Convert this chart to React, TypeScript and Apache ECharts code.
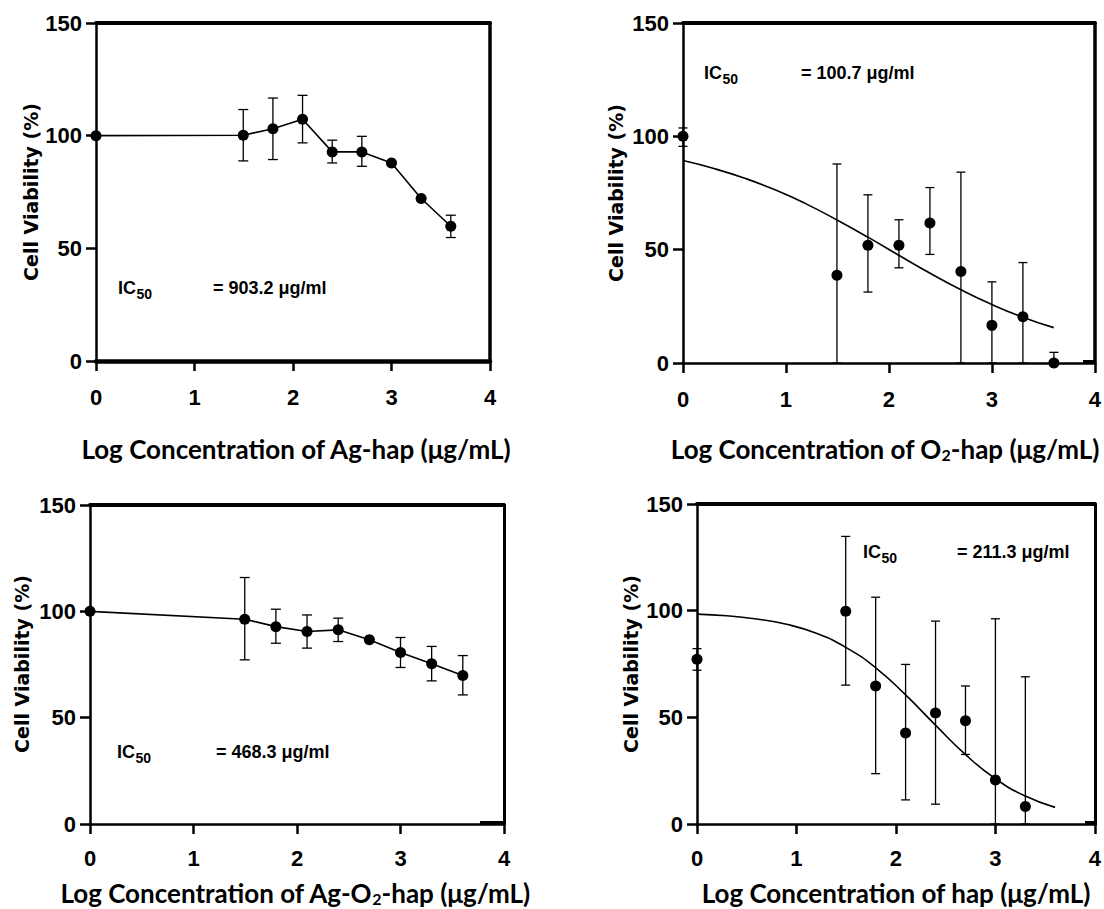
import React, { useEffect, useRef } from "react";
import * as echarts from "echarts";

// ---------- data ----------
const logConc = [0, 1.495, 1.796, 2.097, 2.398, 2.699, 3.0, 3.301, 3.602];
const xTicks = [0, 1, 2, 3, 4];
const yTicks = [0, 50, 100, 150];

// Ag-hap
const agHapMean = [100, 100.2, 103.1, 107.3, 92.8, 92.8, 87.9, 72.1, 59.8];
const agHapLow = [100, 88.8, 89.4, 96.8, 87.9, 86.4, 87.9, 72.1, 54.8];
const agHapHigh = [100, 111.6, 116.7, 117.9, 98.0, 99.7, 87.9, 72.1, 64.7];

// O2-hap
const o2HapMean = [100, 38.7, 51.9, 51.9, 61.8, 40.4, 16.6, 20.4, 0];
const o2HapLow = [95.6, 0, 31.3, 42.0, 47.9, 0, 0, 0, 0];
const o2HapHigh = [103.7, 87.8, 74.2, 63.2, 77.4, 84.2, 35.8, 44.3, 4.7];
const fitX = [0, 0.3, 0.6, 0.9, 1.2, 1.5, 1.8, 2.1, 2.4, 2.7, 3.0, 3.3, 3.6];
const o2HapFit = [89.3, 85.8, 81.5, 76.3, 70.1, 63.0, 55.4, 47.4, 39.6, 32.3, 25.8, 20.2, 15.6];

// Ag-O2-hap
const agO2HapMean = [100, 96.3, 92.8, 90.5, 91.3, 86.6, 80.6, 75.3, 69.8];
const agO2HapLow = [100, 77.2, 85.0, 82.7, 85.8, 86.6, 73.6, 67.3, 60.7];
const agO2HapHigh = [100, 115.9, 101.0, 98.3, 96.8, 86.6, 87.7, 83.5, 79.2];

// hap
const hapMean = [77.2, 99.7, 64.7, 42.7, 52.0, 48.4, 20.6, 8.2];
const hapLow = [72.1, 65.1, 23.6, 11.3, 9.3, 32.6, 0, 0];
const hapHigh = [82.2, 134.8, 106.3, 74.8, 95.1, 64.7, 96.2, 69.0];
const hapFit = [98.4, 97.6, 96.1, 93.6, 89.4, 82.7, 73.1, 60.4, 46.2, 32.5, 21.2, 13.1, 7.8];

const ic50Labels = ["= 903.2 μg/ml", "= 100.7 μg/ml", "= 468.3 μg/ml", "= 211.3 μg/ml"];

// ---------- styling ----------
const NUM_FONT = "'Liberation Sans', Arial, sans-serif";
const TITLE_FONT = "Lato, 'Open Sans', sans-serif";
const YTITLE_FONT = "'DejaVu Sans', sans-serif";

type Panel = {
  grid: { left: number; top: number; width: number; height: number };
  lw: { left: number; bottom: number; top: number; right: number };
  labelMargin: number;
  mean: number[];
  low: number[];
  high: number[];
  fit: number[] | null;
  cap: number;
  xTitle: string;
  xTitlePos: [number, number];
  yTitlePos: [number, number];
  icPos: [number, number];
  valPos: [number, number];
  stub: [number, number, number] | null; // x1, x2, y of the small thick segment at bottom-right
};

const panels: Panel[] = [
  {
    grid: { left: 96, top: 23, width: 394, height: 338 },
    lw: { left: 2.5, bottom: 4.5, top: 4, right: 3.5 },
    labelMargin: 25,
    mean: agHapMean, low: agHapLow, high: agHapHigh, fit: null, cap: 10,
    xTitle: "{m|Log Concentration of Ag-hap (μg/mL)}",
    xTitlePos: [296, 447], yTitlePos: [31, 192], icPos: [118, 288], valPos: [213, 288],
    stub: null,
  },
  {
    grid: { left: 683, top: 23, width: 412, height: 340 },
    lw: { left: 2.5, bottom: 2.5, top: 4, right: 3.5 },
    labelMargin: 25,
    mean: o2HapMean, low: o2HapLow, high: o2HapHigh, fit: o2HapFit, cap: 9,
    xTitle: "{m|Log Concentration of O}{s|2}{m|-hap (μg/mL)}",
    xTitlePos: [885, 447], yTitlePos: [616, 193], icPos: [704, 73], valPos: [801, 73],
    stub: [1083, 1096, 362],
  },
  {
    grid: { left: 90, top: 505, width: 414, height: 319 },
    lw: { left: 2.5, bottom: 2.5, top: 4, right: 3 },
    labelMargin: 23,
    mean: agO2HapMean, low: agO2HapLow, high: agO2HapHigh, fit: null, cap: 10,
    xTitle: "{m|Log Concentration of Ag-O}{s|2}{m|-hap (μg/mL)}",
    xTitlePos: [295, 891], yTitlePos: [22, 664], icPos: [117, 752], valPos: [216, 752],
    stub: [480, 505, 823],
  },
  {
    grid: { left: 697, top: 504, width: 399, height: 320 },
    lw: { left: 2.5, bottom: 2.5, top: 4, right: 3 },
    labelMargin: 23,
    mean: hapMean, low: hapLow, high: hapHigh, fit: hapFit, cap: 9,
    xTitle: "{m|Log Concentration of hap (μg/mL)}",
    xTitlePos: [896, 891], yTitlePos: [631, 664], icPos: [863, 552], valPos: [957, 552],
    stub: [1085, 1097, 823],
  },
];

function buildOption() {
  const grids: any[] = [];
  const xAxes: any[] = [];
  const yAxes: any[] = [];
  const series: any[] = [];
  const graphics: any[] = [];

  panels.forEach((p, i) => {
    grids.push({ ...p.grid, containLabel: false });
    const tickStyle = { show: true, inside: false, length: 10, lineStyle: { color: "#000", width: 2.5 } };
    xAxes.push({
      type: "value", gridIndex: i, position: "bottom", min: xTicks[0], max: xTicks[xTicks.length - 1], interval: 1,
      axisLine: { show: true, onZero: false, lineStyle: { color: "#000", width: p.lw.bottom } },
      axisTick: tickStyle,
      axisLabel: { show: true, margin: p.labelMargin, color: "#000", fontSize: 22, fontWeight: "bold", fontFamily: NUM_FONT },
      splitLine: { show: false },
    });
    xAxes.push({
      type: "value", gridIndex: i, position: "top", min: xTicks[0], max: xTicks[xTicks.length - 1], interval: 1,
      axisLine: { show: true, onZero: false, lineStyle: { color: "#000", width: p.lw.top } },
      axisTick: { show: false }, axisLabel: { show: false }, splitLine: { show: false },
    });
    yAxes.push({
      type: "value", gridIndex: i, position: "left", min: yTicks[0], max: yTicks[yTicks.length - 1], interval: 50,
      axisLine: { show: true, onZero: false, lineStyle: { color: "#000", width: p.lw.left } },
      axisTick: tickStyle,
      axisLabel: { show: true, margin: 14, color: "#000", fontSize: 22, fontWeight: "bold", fontFamily: NUM_FONT },
      splitLine: { show: false },
    });
    yAxes.push({
      type: "value", gridIndex: i, position: "right", min: yTicks[0], max: yTicks[yTicks.length - 1], interval: 50,
      axisLine: { show: true, onZero: false, lineStyle: { color: "#000", width: p.lw.right } },
      axisTick: { show: false }, axisLabel: { show: false }, splitLine: { show: false },
    });

    const pts = p.mean.map((v, k) => [logConc[k], v]);
    const errs = p.mean.map((_, k) => [logConc[k], p.low[k], p.high[k]]);
    const cap = p.cap;

    series.push({
      type: "custom", xAxisIndex: 2 * i, yAxisIndex: 2 * i, data: errs, z: 3, clip: false,
      encode: { x: 0, y: [1, 2] },
      renderItem: (params: any, api: any) => {
        const x = api.value(0);
        const lo = api.coord([x, api.value(1)]);
        const hi = api.coord([x, api.value(2)]);
        const st = { stroke: "#000", lineWidth: 1.3 };
        return {
          type: "group",
          children: [
            { type: "line", shape: { x1: lo[0], y1: lo[1], x2: hi[0], y2: hi[1] }, style: st },
            { type: "line", shape: { x1: hi[0] - cap / 2, y1: hi[1], x2: hi[0] + cap / 2, y2: hi[1] }, style: st },
            { type: "line", shape: { x1: lo[0] - cap / 2, y1: lo[1], x2: lo[0] + cap / 2, y2: lo[1] }, style: st },
          ],
        };
      },
    });

    if (p.fit) {
      series.push({
        type: "line", xAxisIndex: 2 * i, yAxisIndex: 2 * i, data: fitX.map((x, k) => [x, p.fit![k]]),
        smooth: true, symbol: "none", lineStyle: { color: "#000", width: 1.6 }, z: 2, clip: false,
      });
      series.push({
        type: "scatter", xAxisIndex: 2 * i, yAxisIndex: 2 * i, data: pts,
        symbol: "circle", symbolSize: 11, itemStyle: { color: "#000", opacity: 1 }, z: 4, clip: false,
      });
    } else {
      series.push({
        type: "line", xAxisIndex: 2 * i, yAxisIndex: 2 * i, data: pts,
        symbol: "circle", symbolSize: 11, showSymbol: true,
        itemStyle: { color: "#000", opacity: 1 }, lineStyle: { color: "#000", width: 1.6 }, z: 4, clip: false,
      });
    }

    // axis titles
    graphics.push({
      type: "text", x: p.xTitlePos[0], y: p.xTitlePos[1],
      style: {
        text: p.xTitle, fill: "#000", align: "center", verticalAlign: "middle",
        textAlign: "center", textVerticalAlign: "middle",
        rich: {
          m: { fontSize: 26, fontWeight: "bold", fontFamily: TITLE_FONT, lineHeight: 30, verticalAlign: "bottom", fill: "#000", color: "#000" },
          s: { fontSize: 16, fontWeight: "bold", fontFamily: TITLE_FONT, lineHeight: 11, verticalAlign: "bottom", fill: "#000", color: "#000" },
        },
      },
    });
    graphics.push({
      type: "text", x: p.yTitlePos[0], y: p.yTitlePos[1], rotation: Math.PI / 2,
      style: {
        text: "Cell Viability (%)", fill: "#000", fontSize: 19, fontWeight: "bold", fontFamily: YTITLE_FONT,
        align: "center", verticalAlign: "middle", textAlign: "center", textVerticalAlign: "middle",
      },
    });
    // IC50 label: "IC" with a lowered, smaller "50"
    graphics.push({
      type: "text", x: p.icPos[0], y: p.icPos[1],
      style: {
        text: "IC", fill: "#000", fontSize: 18, fontWeight: "bold", fontFamily: NUM_FONT,
        align: "left", verticalAlign: "middle", textAlign: "left", textVerticalAlign: "middle",
      },
    });
    graphics.push({
      type: "text", x: p.icPos[0] + 18.5, y: p.icPos[1] + 6,
      style: {
        text: "50", fill: "#000", fontSize: 14, fontWeight: "bold", fontFamily: NUM_FONT,
        align: "left", verticalAlign: "middle", textAlign: "left", textVerticalAlign: "middle",
      },
    });
    graphics.push({
      type: "text", x: p.valPos[0], y: p.valPos[1],
      style: {
        text: ic50Labels[i], fill: "#000", fontSize: 18, fontWeight: "bold", fontFamily: NUM_FONT,
        align: "left", verticalAlign: "middle", textAlign: "left", textVerticalAlign: "middle",
      },
    });
    if (p.stub) {
      graphics.push({
        type: "line",
        shape: { x1: p.stub[0], y1: p.stub[2], x2: p.stub[1], y2: p.stub[2] },
        style: { stroke: "#000", lineWidth: 4 },
        z: 10,
      });
    }
  });

  return {
    animation: false,
    backgroundColor: "#fff",
    grid: grids,
    xAxis: xAxes,
    yAxis: yAxes,
    series,
    graphic: graphics,
  };
}

export default function App() {
  const ref = useRef<HTMLDivElement>(null);
  useEffect(() => {
    if (!ref.current) return;
    const chart = echarts.init(ref.current, undefined, { renderer: "svg" });
    chart.setOption(buildOption() as any);
    return () => chart.dispose();
  }, []);
  return (
    <div
      ref={ref}
      style={{ position: "absolute", left: 0, top: 0, width: 1104, height: 909, background: "#fff" }}
    />
  );
}
